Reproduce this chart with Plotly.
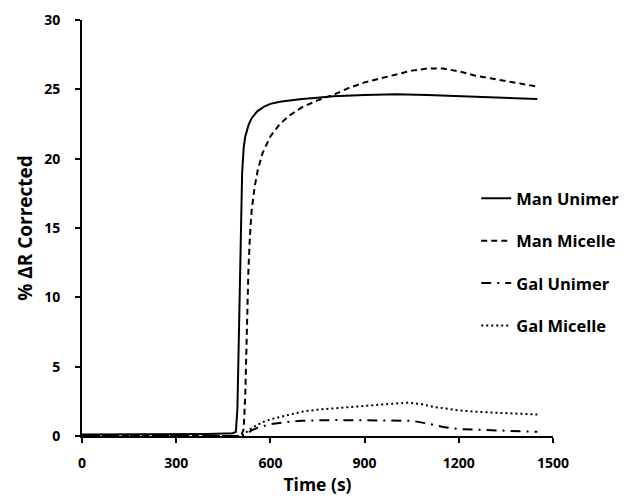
import plotly.graph_objects as go

# Man Unimer (solid)
man_unimer_t = [0, 100, 200, 300, 400, 480, 490, 495, 500, 505, 510, 515, 520, 530, 540,
                550, 560, 580, 600, 630, 660, 700, 750, 800, 900, 1000, 1100, 1200, 1300,
                1400, 1450]
man_unimer_y = [0.1, 0.1, 0.1, 0.12, 0.15, 0.2, 0.3, 2, 8, 15, 19, 20.8, 21.6, 22.4, 22.9,
                23.2, 23.45, 23.75, 23.95, 24.1, 24.2, 24.3, 24.4, 24.5, 24.6, 24.65, 24.6,
                24.5, 24.4, 24.3, 24.3]

# Man Micelle (dashed)
man_micelle_t = [0, 300, 500, 510, 515, 520, 525, 530, 535, 540, 550, 560, 575, 600, 630,
                 660, 700, 750, 800, 850, 900, 950, 1000, 1050, 1100, 1150, 1200, 1250, 1300,
                 1350, 1400, 1450]
man_micelle_y = [0, 0, 0, 0.2, 0.5, 3, 8, 12, 14.5, 16.2, 18.0, 19.2, 20.4, 21.6, 22.5,
                 23.1, 23.7, 24.2, 24.6, 25.1, 25.5, 25.8, 26.1, 26.35, 26.5, 26.5, 26.3,
                 26.0, 25.8, 25.6, 25.4, 25.2]

# Gal Unimer (dash-dot)
gal_unimer_t = [0, 500, 520, 540, 560, 580, 600, 650, 700, 800, 900, 1000, 1050, 1100,
                1150, 1200, 1250, 1300, 1350, 1400, 1450]
gal_unimer_y = [0, 0, 0.1, 0.4, 0.6, 0.75, 0.85, 1.0, 1.1, 1.15, 1.15, 1.15, 1.1, 0.9,
                0.65, 0.5, 0.45, 0.4, 0.38, 0.35, 0.3]

# Gal Micelle (dotted)
gal_micelle_t = [0, 500, 515, 530, 550, 575, 600, 650, 700, 750, 800, 850, 900, 950, 1000,
                 1040, 1080, 1120, 1160, 1200, 1250, 1300, 1350, 1400, 1450]
gal_micelle_y = [0, 0, 0.1, 0.4, 0.7, 1.0, 1.2, 1.5, 1.75, 1.9, 2.0, 2.1, 2.2, 2.3, 2.35,
                 2.4, 2.3, 2.1, 1.95, 1.85, 1.75, 1.7, 1.65, 1.6, 1.55]

x_ticks = [0, 300, 600, 900, 1200, 1500]
y_ticks = [0, 5, 10, 15, 20, 25, 30]

FONT = "Open Sans"

series = [
    ("Man Unimer", man_unimer_t, man_unimer_y, "solid"),
    ("Man Micelle", man_micelle_t, man_micelle_y, "6px,4px"),
    ("Gal Unimer", gal_unimer_t, gal_unimer_y, "10px,6px,2px,6px"),
    ("Gal Micelle", gal_micelle_t, gal_micelle_y, "2px,3px"),
]

fig = go.Figure()
for name, t, y, dash in series:
    fig.add_trace(go.Scatter(
        x=t, y=y, mode="lines", name=name, legendgroup=name,
        line=dict(color="black", width=2, dash=dash),
    ))

fig.update_layout(
    width=631, height=500,
    margin=dict(l=82, r=78, t=20, b=64, autoexpand=False),
    paper_bgcolor="white", plot_bgcolor="white",
    font=dict(family=FONT, color="black", size=14, weight="bold"),
    showlegend=True,
    legend=dict(
        x=0.837, y=0.613, xanchor="left", yanchor="top",
        bgcolor="rgba(0,0,0,0)", tracegroupgap=18,
        font=dict(family=FONT, size=16.5, weight="bold", color="black"),
        itemwidth=30,
    ),
)

fig.update_xaxes(
    range=[0, 1500], tickvals=x_ticks, ticktext=[str(v) for v in x_ticks],
    automargin=False,
    showline=True, linecolor="black", linewidth=2,
    ticks="outside", ticklen=5, tickwidth=2, tickcolor="black",
    ticklabelstandoff=8,
    showgrid=False, zeroline=False,
    tickfont=dict(family=FONT, size=14, weight="bold"),
    title=dict(text="Time (s)", font=dict(family=FONT, size=17.5, weight="bold"), standoff=8),
)
fig.update_yaxes(
    range=[0, 30], tickvals=y_ticks, ticktext=[str(v) for v in y_ticks],
    automargin=False,
    showline=True, linecolor="black", linewidth=2,
    ticks="outside", ticklen=5, tickwidth=2, tickcolor="black",
    ticklabelstandoff=12,
    showgrid=False, zeroline=False,
    tickfont=dict(family=FONT, size=14, weight="bold"),
    title=dict(text="% ΔR Corrected", font=dict(family=FONT, size=19, weight="bold"), standoff=7),
)

fig.write_html("out.html")
